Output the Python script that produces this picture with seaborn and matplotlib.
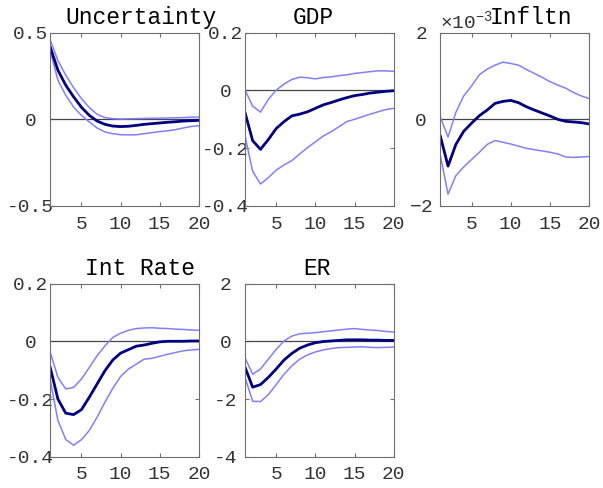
import numpy as np
import pandas as pd
import matplotlib
matplotlib.use("Agg")
import matplotlib.pyplot as plt
import seaborn as sns
from matplotlib.ticker import ScalarFormatter

horizon = list(range(1, 21))

unc_med = [0.42, 0.284, 0.197, 0.13, 0.07, 0.023, -0.01, -0.029, -0.039, -0.042,
           -0.04, -0.035, -0.029, -0.025, -0.021, -0.017, -0.014, -0.01, -0.008, -0.006]
unc_hi = [0.46, 0.34, 0.255, 0.183, 0.12, 0.068, 0.029, 0.01, 0.004, 0.002,
          0.003, 0.004, 0.005, 0.006, 0.007, 0.008, 0.009, 0.01, 0.012, 0.013]
unc_lo = [0.40, 0.226, 0.139, 0.071, 0.023, -0.015, -0.05, -0.073, -0.083, -0.089,
          -0.09, -0.089, -0.083, -0.077, -0.071, -0.066, -0.06, -0.05, -0.041, -0.037]

gdp_med = [-0.074, -0.174, -0.204, -0.17, -0.132, -0.108, -0.088, -0.082, -0.074, -0.062,
           -0.05, -0.042, -0.033, -0.025, -0.018, -0.014, -0.009, -0.006, -0.003, -0.001]
gdp_hi = [0.003, -0.054, -0.075, -0.031, 0.001, 0.022, 0.038, 0.046, 0.044, 0.04,
          0.045, 0.047, 0.051, 0.054, 0.059, 0.062, 0.065, 0.068, 0.068, 0.066]
gdp_lo = [-0.155, -0.28, -0.324, -0.302, -0.276, -0.258, -0.243, -0.22, -0.198, -0.178,
          -0.158, -0.143, -0.126, -0.108, -0.1, -0.091, -0.082, -0.074, -0.066, -0.062]

# inflation, read in units of 1e-3
infl_med = [-0.375, -1.08, -0.58, -0.276, -0.09, 0.084, 0.215, 0.368, 0.414, 0.437,
            0.383, 0.29, 0.215, 0.146, 0.077, 0.0, -0.046, -0.061, -0.077, -0.107]
infl_hi = [0.06, -0.41, 0.16, 0.54, 0.77, 1.03, 1.16, 1.25, 1.32, 1.29,
           1.25, 1.15, 1.06, 0.97, 0.87, 0.79, 0.72, 0.62, 0.54, 0.48]
infl_lo = [-0.81, -1.73, -1.3, -1.1, -0.93, -0.76, -0.58, -0.49, -0.53, -0.57,
           -0.62, -0.67, -0.70, -0.73, -0.76, -0.80, -0.87, -0.88, -0.87, -0.86]

ir_med = [-0.088, -0.2, -0.249, -0.254, -0.237, -0.194, -0.148, -0.102, -0.065, -0.041,
          -0.029, -0.017, -0.013, -0.007, -0.002, 0.0, 0.0, 0.0, 0.001, 0.001]
ir_hi = [-0.036, -0.125, -0.165, -0.16, -0.131, -0.091, -0.05, -0.016, 0.013, 0.028,
         0.038, 0.044, 0.046, 0.047, 0.045, 0.044, 0.042, 0.041, 0.039, 0.038]
ir_lo = [-0.131, -0.274, -0.34, -0.36, -0.341, -0.309, -0.263, -0.211, -0.163, -0.122,
         -0.096, -0.079, -0.062, -0.059, -0.052, -0.045, -0.039, -0.033, -0.03, -0.028]

er_med = [-0.88, -1.59, -1.5, -1.25, -0.96, -0.65, -0.42, -0.24, -0.13, -0.05,
          -0.01, 0.01, 0.03, 0.05, 0.05, 0.05, 0.04, 0.04, 0.03, 0.03]
er_hi = [-0.56, -1.14, -0.96, -0.62, -0.28, 0.01, 0.18, 0.26, 0.28, 0.3,
         0.33, 0.36, 0.39, 0.42, 0.44, 0.41, 0.39, 0.37, 0.34, 0.32]
er_lo = [-1.23, -2.08, -2.09, -1.85, -1.5, -1.14, -0.85, -0.62, -0.47, -0.37,
         -0.3, -0.25, -0.22, -0.21, -0.2, -0.19, -0.21, -0.22, -0.21, -0.2]

titles = ["Uncertainty", "GDP", "Infltn", "Int Rate", "ER"]

sns.set_style("ticks")
plt.rcParams["font.family"] = ["Liberation Mono", "DejaVu Sans Mono"]
plt.rcParams["axes.unicode_minus"] = False
plt.rcParams["mathtext.fontset"] = "custom"
plt.rcParams["mathtext.rm"] = "Liberation Mono"

MED = "#000080"
BAND = "#8080ff"
FRAME = "#6e6e6e"
TXT = "#333333"

fig = plt.figure(figsize=(6.03, 4.88), dpi=100)
w, h = 0.247, 0.355
boxes = [(0.083, 0.578), (0.406, 0.578), (0.730, 0.578),
         (0.083, 0.064), (0.406, 0.064)]
# where each title sits along its axes (fraction of width), as in the original
title_x = [0.61, 0.46, 0.61, 0.605, 0.487]

panels = [
    (unc_med, unc_hi, unc_lo, 1.0, (-0.5, 0.5), [-0.5, 0, 0.5], ["-0.5", "0", "0.5"]),
    (gdp_med, gdp_hi, gdp_lo, 1.0, (-0.4, 0.2), [-0.4, -0.2, 0, 0.2], ["-0.4", "-0.2", "0", "0.2"]),
    (infl_med, infl_hi, infl_lo, 1e-3, (-2e-3, 2e-3), [-2e-3, 0, 2e-3], None),
    (ir_med, ir_hi, ir_lo, 1.0, (-0.4, 0.2), [-0.4, -0.2, 0, 0.2], ["-0.4", "-0.2", "0", "0.2"]),
    (er_med, er_hi, er_lo, 1.0, (-4, 2), [-4, -2, 0, 2], ["-4", "-2", "0", "2"]),
]

for (left, bottom), title, tx, (med, hi, lo, unit, ylim, yt, ylab) in zip(boxes, titles, title_x, panels):
    ax = fig.add_axes([left, bottom, w, h])
    df = pd.DataFrame({"h": horizon,
                       "med": np.array(med) * unit,
                       "hi": np.array(hi) * unit,
                       "lo": np.array(lo) * unit})
    ax.axhline(0, color="#444444", lw=0.9, zorder=1)
    sns.lineplot(data=df, x="h", y="hi", ax=ax, color=BAND, lw=1.1)
    sns.lineplot(data=df, x="h", y="lo", ax=ax, color=BAND, lw=1.1)
    sns.lineplot(data=df, x="h", y="med", ax=ax, color=MED, lw=2.0)
    ax.set_xlim(1, 20)
    ax.set_ylim(*ylim)
    ax.set_xticks([5, 10, 15, 20])
    ax.set_yticks(yt)
    if ylab is not None:
        ax.set_yticklabels(ylab)
    else:
        fmt = ScalarFormatter(useMathText=True)
        fmt.set_powerlimits((0, 0))
        ax.yaxis.set_major_formatter(fmt)
        ax.yaxis.get_offset_text().set_fontsize(14)
        ax.yaxis.get_offset_text().set_color(TXT)
    ax.set_xlabel("")
    ax.set_ylabel("")
    ax.set_title(title, fontsize=16.5, color="black", pad=6.5, x=tx, y=1.0)
    ax.tick_params(direction="in", length=3, width=0.8, color=FRAME,
                   labelsize=14, labelcolor=TXT, top=True, right=True)
    ax.tick_params(axis="x", pad=7)
    ax.tick_params(axis="y", pad=14)
    for t in ax.yaxis.get_major_ticks():
        t.label1.set_horizontalalignment("center")
    for s in ax.spines.values():
        s.set_color(FRAME)
        s.set_linewidth(0.8)

fig.savefig("out.png", dpi=100)
